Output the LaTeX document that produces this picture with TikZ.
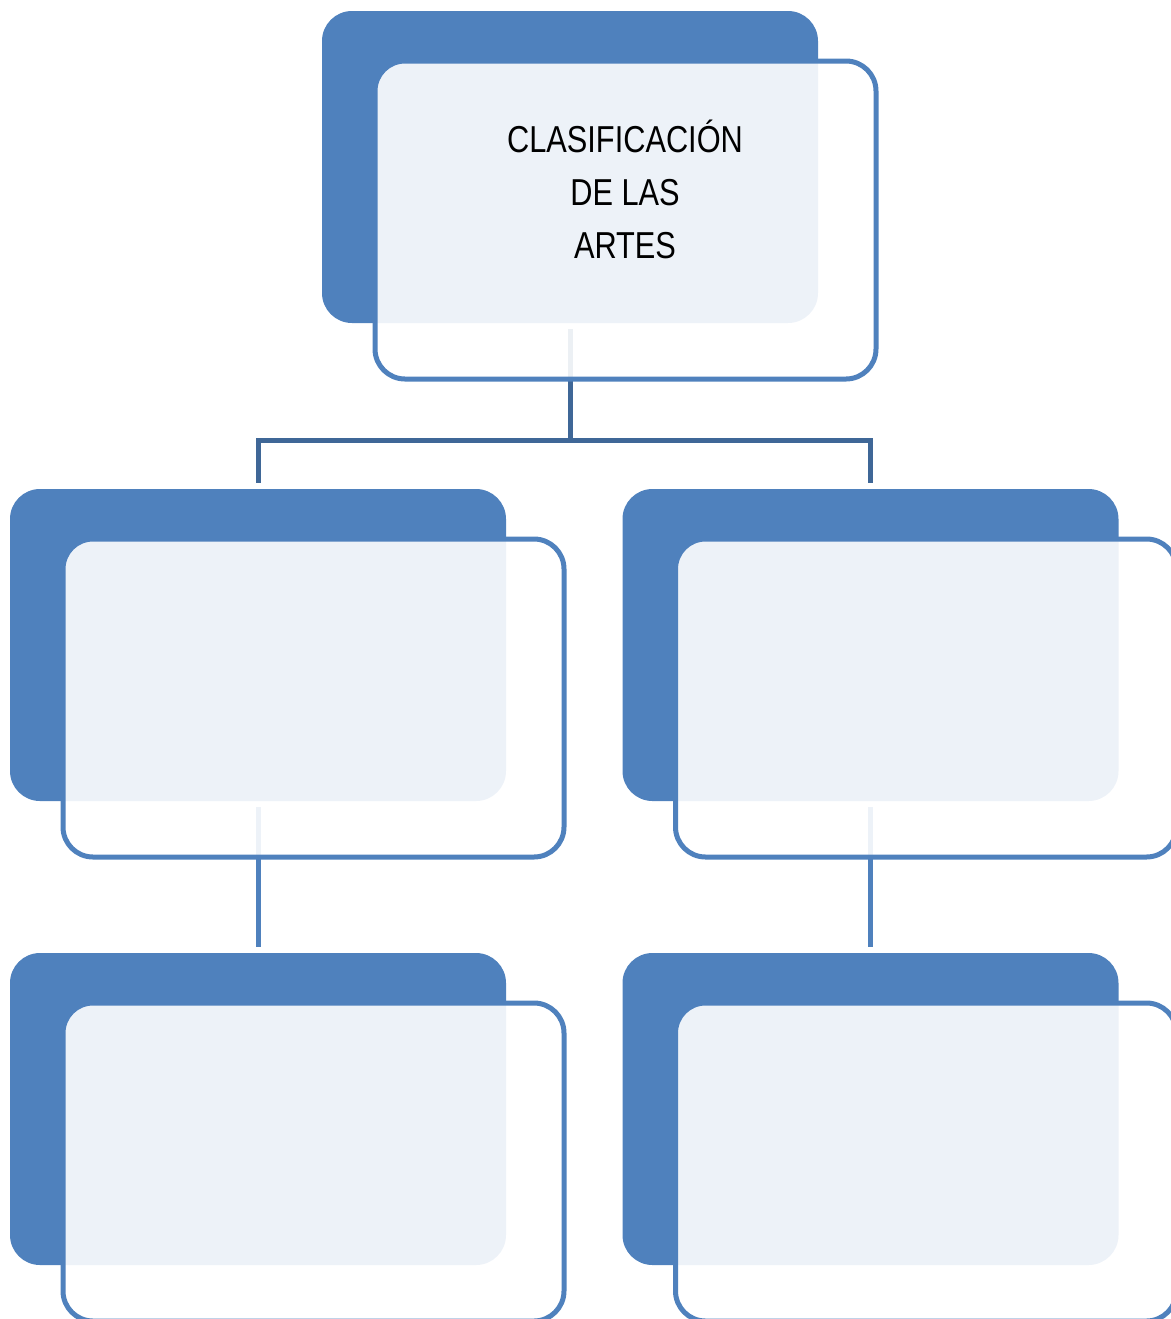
\documentclass[tikz,border=0pt]{standalone}
\usepackage{fontspec}
\usepackage{tikz}
\usetikzlibrary{calc}
\newfontfamily\narrowfont[FakeStretch=0.82]{Liberation Sans}
\definecolor{boxblue}{HTML}{4F81BD}
\definecolor{linkblue}{HTML}{3F6797}

\begin{document}
\begin{tikzpicture}[x=0.5pt, y=-0.5pt,
    backbox/.style={fill=boxblue, rounded corners=15pt, minimum width=248pt, minimum height=156pt, inner sep=0pt},
    frontbox/.style={draw=boxblue, line width=2.5pt, fill=white, fill opacity=0.9, rounded corners=15pt, minimum width=250.5pt, minimum height=159pt, inner sep=0pt},
    toplink/.style={draw=linkblue, line width=2.5pt},
    sublink/.style={draw=boxblue, line width=2.5pt}]
    \useasboundingbox (0,0) rectangle (1171,1319);

    % Back panels
    \node[backbox] (topb) at (570,167) {};
    \node[backbox] (leftb) at (258,645) {};
    \node[backbox] (rightb) at (870.5,645) {};
    \node[backbox] (leftlowb) at (258,1109) {};
    \node[backbox] (rightlowb) at (870.5,1109) {};

    % Links
    \coordinate (bar) at (570,440);
    \draw[toplink] ([yshift=-3pt]topb.south) -- (bar);
    \draw[toplink] ([yshift=3pt]leftb.north) |- (bar) -| ([yshift=3pt]rightb.north);
    \draw[sublink] ([yshift=-3pt]leftb.south) -- ([yshift=3pt]leftlowb.north);
    \draw[sublink] ([yshift=-3pt]rightb.south) -- ([yshift=3pt]rightlowb.north);

    % Front panels
    \foreach \b in {topb, leftb, rightb, leftlowb, rightlowb}
        \node[frontbox] (\b-front) at ($(\b)+(55.5,53)$) {};

    % Title
    \node[align=center, font=\narrowfont\fontsize{18.75pt}{26.5pt}\selectfont] (title) at (625,189) {CLASIFICACIÓN\\DE LAS\\ARTES};
\end{tikzpicture}
\end{document}
